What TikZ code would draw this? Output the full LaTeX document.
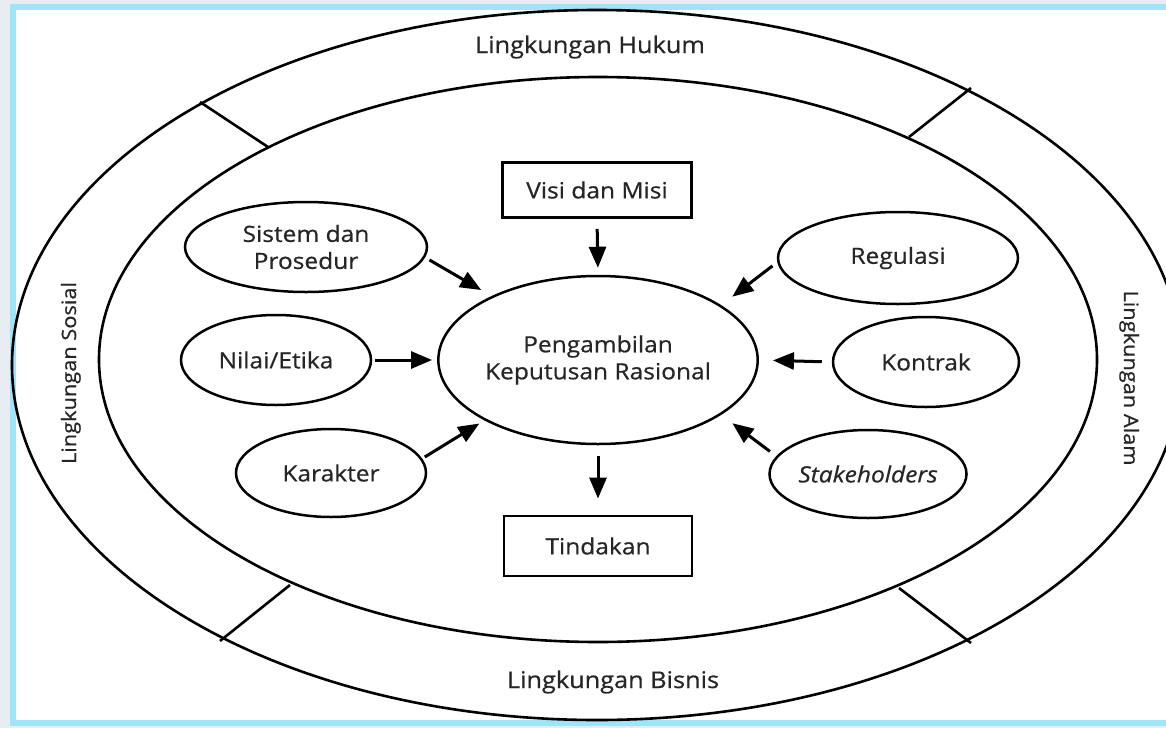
\documentclass[tikz,border=0pt]{standalone}
\usepackage{fontspec}
\setmainfont{Open Sans}[FakeStretch=1.1, FakeBold=0.6]
\usetikzlibrary{shapes.geometric,arrows.meta}
\definecolor{txt}{HTML}{262626}
\definecolor{bgc}{HTML}{E8EDF3}
\definecolor{framec}{HTML}{9FE4F7}
\tikzset{
  ring/.style={line width=2.6pt},
  oval/.style={ellipse, draw, line width=2.5pt, inner sep=0pt, align=center,
    font=\fontsize{22.3}{27}\selectfont, text=txt},
  boxn/.style={rectangle, draw, line width=2.9pt, inner sep=0pt,
    font=\fontsize{22.3}{27}\selectfont, text=txt},
  arr/.style={line width=3pt, -{Triangle[length=21pt,width=17pt]}},
  envlabel/.style={font=\fontsize{23}{26}\selectfont, text=txt, anchor=base, inner sep=0pt},
  sidelabel/.style={font=\fontsize{19.8}{22}\selectfont, text=txt, anchor=base, inner sep=0pt},
}
\begin{document}
\begin{tikzpicture}[x=1pt,y=-1pt]
\useasboundingbox (0,0) rectangle (1166,728);
\clip (0,0) rectangle (1166,728);
% background and frame
\fill[bgc] (0,0) rectangle (1166,728);
\draw[framec, line width=6pt, fill=white] (13,7) rectangle (1190,723);
% rings
\draw[ring] (597,365) ellipse [x radius=585pt, y radius=355pt];
\draw[ring] (598,359.5) ellipse [x radius=499pt, y radius=282.5pt];
% dividers
\coordinate (tlo) at (200,102); \coordinate (tli) at (268,147);
\coordinate (tro) at (971,88);  \coordinate (tri) at (909,137);
\coordinate (blo) at (220,641); \coordinate (bli) at (290,585);
\coordinate (bro) at (971,643); \coordinate (bri) at (899,588);
\draw[ring] (tlo) -- (tli);
\draw[ring] (tro) -- (tri);
\draw[ring] (blo) -- (bli);
\draw[ring] (bro) -- (bri);
% ring labels
\node[envlabel] (hukum) at (590,53) {Lingkungan Hukum};
\node[envlabel] (bisnis) at (613,688) {Lingkungan Bisnis};
\node[sidelabel, rotate=90] (sosial) at (76,373) {Lingkungan Sosial};
\node[sidelabel, rotate=-90] (alam) at (1124,378) {Lingkungan Alam};
% central nodes
\node[oval, minimum width=313pt, minimum height=168pt] (cen) at (598,360) {Pengambilan\\Keputusan Rasional};
\node[boxn, minimum width=189pt, minimum height=55pt] (visi) at (597,190) {Visi dan Misi};
\node[boxn, minimum width=188pt, minimum height=60pt] (tind) at (598,546) {Tindakan};
% left ovals
\node[oval, minimum width=242pt, minimum height=90pt] (sis) at (306,247) {Sistem dan\\Prosedur};
\node[oval, minimum width=190pt, minimum height=90pt] (nil) at (276,360) {Nilai/Etika};
\node[oval, minimum width=190pt, minimum height=88pt] (kar) at (331,473) {Karakter};
% right ovals
\node[oval, minimum width=240pt, minimum height=92pt] (reg) at (898,258) {Regulasi};
\node[oval, minimum width=186pt, minimum height=90pt] (kon) at (926,362) {Kontrak};
\node[oval, minimum width=192pt, minimum height=88pt] (sta) at (868,474) {\itshape Stakeholders};
% arrows
\draw[arr, shorten <=10pt, shorten >=7pt] (visi.south) -- (cen.north);
\draw[arr, shorten <=11pt, shorten >=16pt] (cen.south) -- (tind.north);
\draw[arr, shorten <=5pt, shorten >=12pt] (sis.-5) -- (cen.149);
\draw[arr, shorten <=3pt, shorten >=5pt] (nil.east) -- (cen.west);
\draw[arr, shorten <=3pt, shorten >=6pt] (kar.9) -- (cen.208);
\draw[arr, shorten <=6pt, shorten >=14pt] (reg.182) -- (cen.24);
\draw[arr, shorten <=10pt, shorten >=14pt] (kon.west) -- (cen.east);
\draw[arr, shorten <=8pt, shorten >=14pt] (sta.169) -- (cen.-24);
\end{tikzpicture}
\end{document}
